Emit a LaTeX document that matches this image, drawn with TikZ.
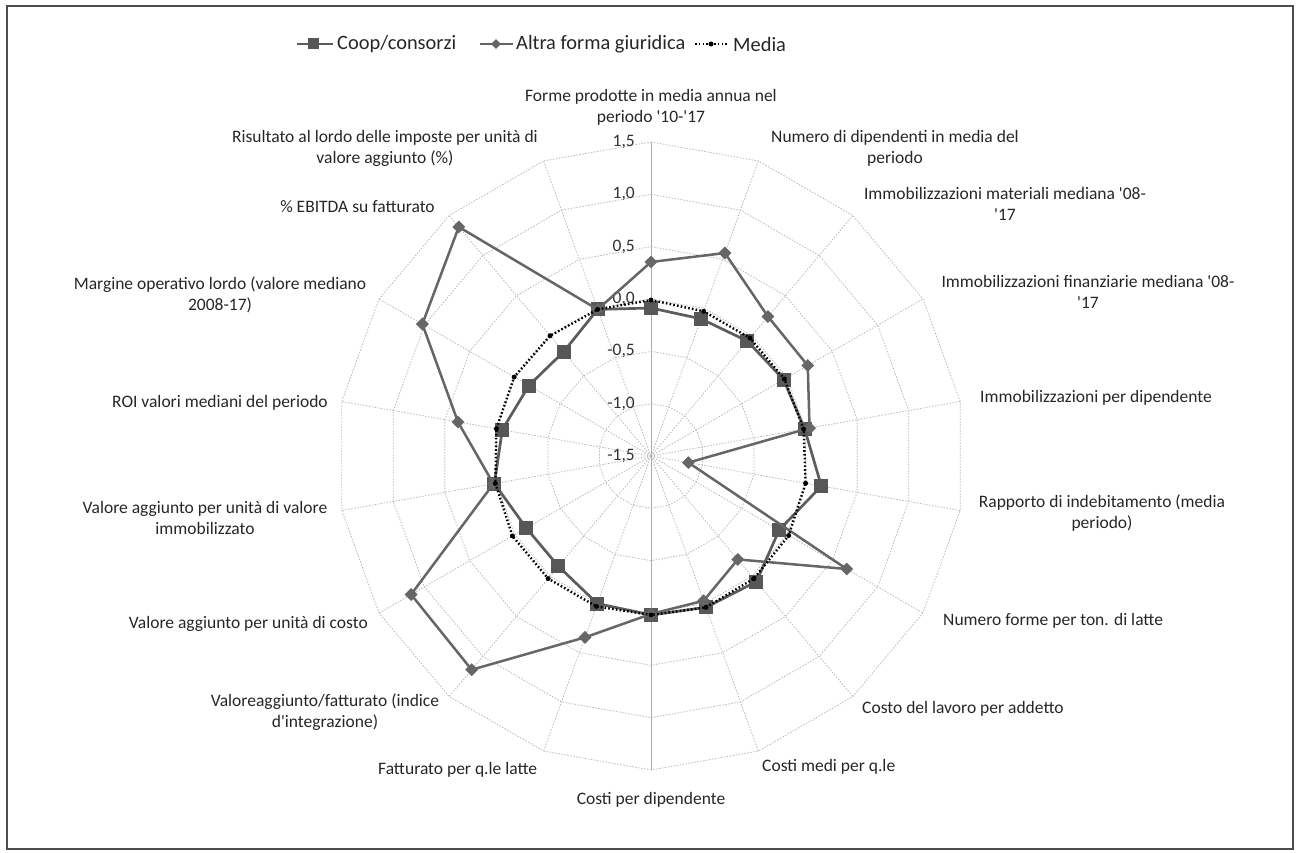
\documentclass[tikz,border=0pt]{standalone}
\usepackage{fontspec}
\setmainfont{Carlito}[Ligatures=TeXOff]
\usetikzlibrary{shapes.geometric}
\begin{document}
\begin{tikzpicture}[x=1pt,y=1pt,
  gridline/.style={draw=gray!55, line width=0.8pt, dash pattern=on 1.5pt off 1.5pt},
  axisline/.style={draw=gray!65, line width=0.9pt},
  lbl/.style={font=\fontsize{17.5}{21}\selectfont, text=black!85, align=center, inner sep=0pt},
  ticklbl/.style={font=\fontsize{17.5}{21}\selectfont, text=black!80, anchor=east, inner sep=0pt},
  legtxt/.style={font=\fontsize{20.4}{24}\selectfont, text=black!85, anchor=west, inner sep=0pt},
  coopline/.style={draw=black!64, line width=2.7pt, line join=round},
  altraline/.style={draw=black!60, line width=2.5pt, line join=round},
  medialine/.style={draw=black, line width=2.4pt, dash pattern=on 1.6pt off 2.2pt},
  sqmark/.style={rectangle, fill=black!66, minimum size=14pt, inner sep=0pt},
  dmmark/.style={diamond, fill=black!60, minimum size=13pt, inner sep=0pt},
  dotmark/.style={circle, fill=black, minimum size=5pt, inner sep=0pt},
  frame/.style={draw=black!70, line width=1.5pt}
]
\useasboundingbox (-651,-396) rectangle (646,456);
\draw[frame] (-644,-393) rectangle (642,450);

% rings
\foreach \k in {1,...,6}{
  \pgfmathsetmacro{\rr}{\k*52.33}
  \draw[gridline] (90:\rr) \foreach \i in {1,...,17}{ -- ({90-20*\i}:\rr)} -- cycle;
}
% spokes
\foreach \i in {1,...,8,10,11,...,17}{
  \draw[gridline] (0,0) -- ({90-20*\i}:314);
}
\draw[axisline] (0,0) -- (90:314);
\draw[axisline] (0,0) -- (-90:314);

% tick labels
\foreach \t [count=\k from 0] in {-1{,}5,-1{,}0,-0{,}5,0{,}0,0{,}5,1{,}0,1{,}5}{
  \node[ticklbl] (tick\k) at (-16,{\k*52.33}) {\t};
}

% data
\def\coopdata{148,146,150,153,156,173,148,164,161,159,157,144,144,159,151,141,136,156}
\def\altradata{194,216,182,181,161,38,226,135,154,158,193,279,277,160,196,264,299,156}
\def\mediadata{156,154,154,154,155,157,159,160,161,159,160,160,160,158,157,158,157,156}
\foreach \r [count=\i from 0] in \coopdata { \coordinate (c\i) at ({90-20*\i}:\r); }
\foreach \r [count=\i from 0] in \altradata { \coordinate (a\i) at ({90-20*\i}:\r); }
\foreach \r [count=\i from 0] in \mediadata { \coordinate (m\i) at ({90-20*\i}:\r); }

\draw[coopline] (c0) \foreach \i in {1,...,17}{ -- (c\i)} -- cycle;
\foreach \i in {0,...,17}{ \node[sqmark] (cm\i) at (c\i) {}; }
\draw[altraline] (a0) \foreach \i in {1,...,17}{ -- (a\i)} -- cycle;
\foreach \i in {0,...,17}{ \node[dmmark] (am\i) at (a\i) {}; }
\draw[medialine] (m0) \foreach \i in {1,...,17}{ -- (m\i)} -- cycle;
\foreach \i in {0,...,17}{ \node[dotmark] (mm\i) at (m\i) {}; }

% axis labels
\node[lbl] (l0) at (0,348.5) {Forme prodotte in media annua nel\\periodo '10-'17};
\node[lbl] (l1) at (244,308) {Numero di dipendenti in media del\\periodo};
\node[lbl] (l2) at (354,252) {Immobilizzazioni materiali mediana '08-\\'17};
\node[lbl] (l3) at (437,164) {Immobilizzazioni finanziarie mediana '08-\\'17};
\node[lbl, anchor=west] (l4) at (329,58) {Immobilizzazioni per dipendente};
\node[lbl] (l5) at (451,-57) {Rapporto di indebitamento (media\\periodo)};
\node[lbl, anchor=west] (l6) at (292,-165) {Numero forme per ton. di latte};
\node[lbl, anchor=west] (l7) at (211,-253) {Costo del lavoro per addetto};
\node[lbl, anchor=west] (l8) at (111,-311) {Costi medi per q.le};
\node[lbl] (l9) at (0,-344) {Costi per dipendente};
\node[lbl, anchor=west] (l10) at (-273,-314) {Fatturato per q.le latte};
\node[lbl] (l11) at (-326,-256) {Valoreaggiunto/fatturato (indice\\d'integrazione)};
\node[lbl, anchor=east] (l12) at (-283,-168) {Valore aggiunto per unità di costo};
\node[lbl] (l13) at (-446,-61.5) {Valore aggiunto per unità di valore\\immobilizzato};
\node[lbl, anchor=east] (l14) at (-323,53) {ROI valori mediani del periodo};
\node[lbl] (l15) at (-431,161.5) {Margine operativo lordo (valore mediano\\2008-17)};
\node[lbl] (l16) at (-293.5,249) {\% EBITDA su fatturato};
\node[lbl] (l17) at (-266,308) {Risultato al lordo delle imposte per unità di\\valore aggiunto (\%)};

% legend
\coordinate (lc1) at (-354,412); \coordinate (lc2) at (-318,412);
\draw[coopline] (lc1) -- (lc2);
\node[sqmark, minimum size=11pt] (lcm) at (-337,412) {};
\node[legtxt] (lct) at (-314,412) {Coop/consorzi};
\coordinate (la1) at (-171,412); \coordinate (la2) at (-138,412);
\draw[altraline] (la1) -- (la2);
\node[dmmark, minimum size=10pt] (lam) at (-155,412) {};
\node[legtxt] (lat) at (-135,412) {Altra forma giuridica};
\coordinate (lm1) at (44,412); \coordinate (lm2) at (76,412);
\draw[medialine] (lm1) -- (lm2);
\node[dotmark] (lmm) at (60,412) {};
\node[legtxt] (lmt) at (82,412) {Media};
\end{tikzpicture}
\end{document}
